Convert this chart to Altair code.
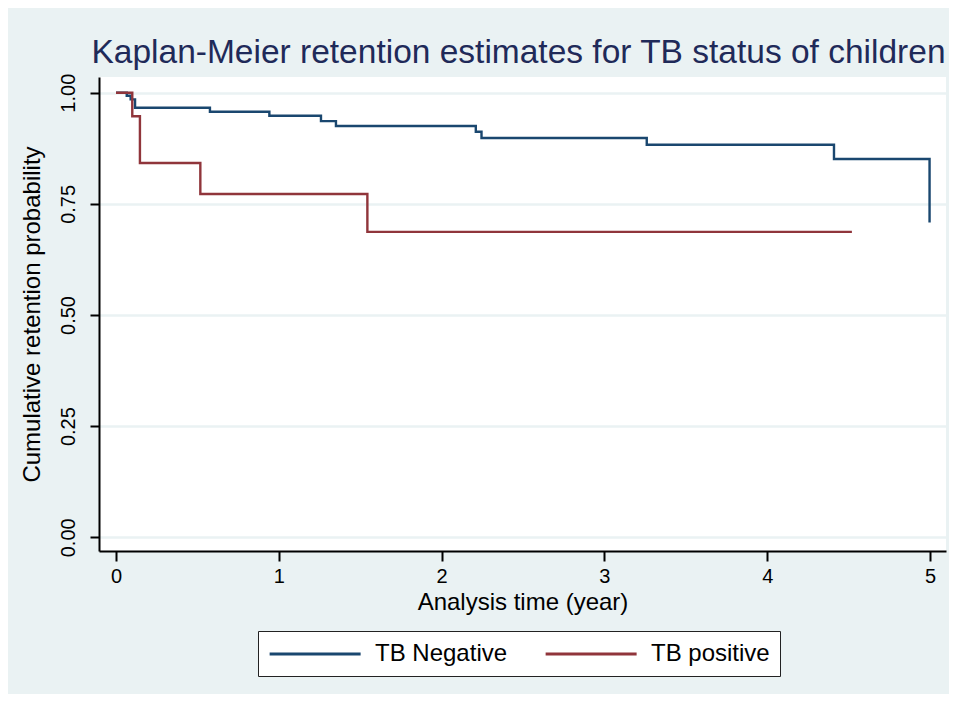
import altair as alt
import pandas as pd

# Kaplan-Meier step points (time in years, retention probability)
neg_time = [0.0, 0.066, 0.09, 0.117, 0.577, 0.942, 1.259, 1.351, 2.21, 2.245, 3.26, 4.41, 4.997]
neg_surv = [1.0, 0.993, 0.985, 0.966, 0.957, 0.948, 0.936, 0.925, 0.912, 0.898, 0.883, 0.851, 0.708]

pos_time = [0.0, 0.100, 0.147, 0.518, 1.544, 4.52]
pos_surv = [1.0, 0.947, 0.842, 0.772, 0.687, 0.687]

groups = ["TB Negative", "TB positive"]
colors = ["#1a476f", "#90353b"]

x_ticks = [0, 1, 2, 3, 4, 5]
y_ticks = [0.0, 0.25, 0.5, 0.75, 1.0]

rows = []
for t, s in zip(neg_time, neg_surv):
    rows.append({"group": groups[0], "time": t, "surv": s, "k": 0})
for t, s in zip(pos_time, pos_surv):
    rows.append({"group": groups[1], "time": t, "surv": s, "k": 1})
df = pd.DataFrame(rows)

FONT = "Liberation Sans"
BG = "#eaf2f3"

chart = (
    alt.Chart(df)
    .mark_line(interpolate="step-after", strokeWidth=2.4)
    .encode(
        x=alt.X(
            "time:Q",
            scale=alt.Scale(domain=[-0.1044, 5.098], nice=False, zero=False),
            axis=alt.Axis(
                title="Analysis time (year)",
                values=x_ticks,
                format="d",
                grid=False,
                domainColor="black",
                domainWidth=2,
                tickColor="black",
                tickWidth=2,
                tickSize=10,
                labelFontSize=20,
                labelFont=FONT,
                labelColor="black",
                labelPadding=5,
                titleFontSize=24,
                titleFont=FONT,
                titleFontWeight="normal",
                titleColor="black",
                titleBaseline="alphabetic",
                titleY=58,
            ),
        ),
        y=alt.Y(
            "surv:Q",
            scale=alt.Scale(domain=[-0.0308, 1.0353], nice=False, zero=False),
            axis=alt.Axis(
                title="Cumulative retention probability",
                values=y_ticks,
                format=".2f",
                grid=True,
                gridColor=BG,
                gridWidth=2.5,
                domainColor="black",
                domainWidth=2,
                tickColor="black",
                tickWidth=2,
                tickSize=9,
                labelFontSize=20,
                labelFont=FONT,
                labelColor="black",
                labelAngle=270,
                labelAlign="center",
                labelBaseline="alphabetic",
                labelPadding=16,
                titleFontSize=24,
                titleFont=FONT,
                titleFontWeight="normal",
                titleColor="black",
                titleBaseline="alphabetic",
                titleX=-60,
            ),
        ),
        color=alt.Color(
            "group:N",
            scale=alt.Scale(domain=groups, range=colors),
            legend=alt.Legend(
                title=None,
                orient="none",
                legendX=159,
                legendY=554,
                direction="horizontal",
                columns=2,
                columnPadding=31,
                padding=10,
                fillColor="white",
                strokeColor="#222222",
                symbolType="M-1,0H7",
                symbolSize=517.6,
                symbolStrokeWidth=3,
                labelFontSize=24,
                labelFont=FONT,
                labelColor="black",
                labelOffset=81,
            ),
        ),
        order="k:Q",
    )
    .properties(
        width=847,
        height=474,
        background=BG,
        padding={"left": 91, "top": 69, "right": 3, "bottom": 143},
        autosize=alt.AutoSizeParams(type="none"),
        title=alt.TitleParams(
            "Kaplan-Meier retention estimates for TB status of children",
            fontSize=33.5,
            font=FONT,
            fontWeight="normal",
            color="#1f2a59",
            anchor="middle",
            frame="group",
            baseline="alphabetic",
            offset=8,
            dy=31,
            dx=-4,
        ),
    )
    .configure_view(fill="white", stroke=None)
)

chart.save("out.html", embed_options={"renderer": "svg", "actions": False})
